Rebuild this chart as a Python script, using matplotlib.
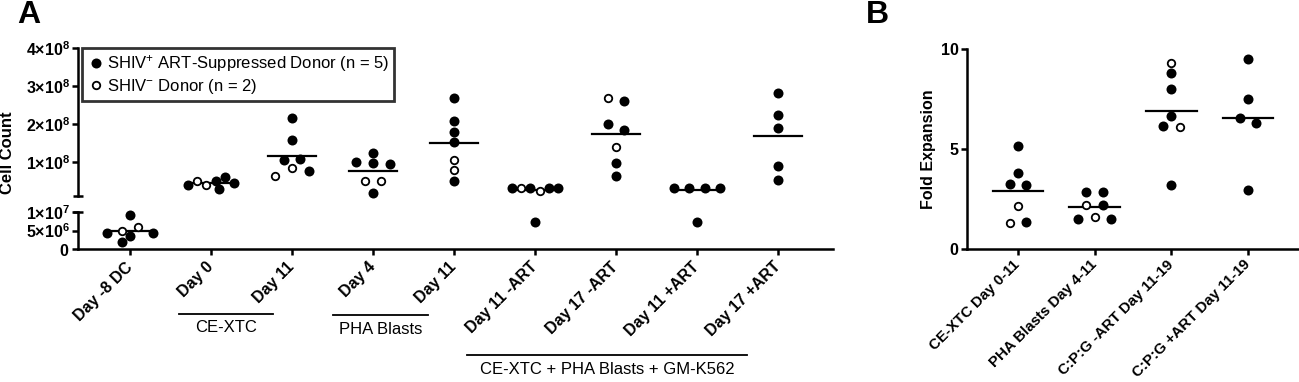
import numpy as np
import matplotlib
matplotlib.use('Agg')
import matplotlib.pyplot as plt
from matplotlib.lines import Line2D
from matplotlib import transforms

plt.rcParams['font.family'] = ['Liberation Sans', 'DejaVu Sans']
plt.rcParams['mathtext.fontset'] = 'custom'
plt.rcParams['mathtext.rm'] = 'Liberation Sans'
plt.rcParams['mathtext.bf'] = 'Liberation Sans:bold'
plt.rcParams['mathtext.it'] = 'Liberation Sans:italic'

# ---- panel A: cell counts (values listed left to right inside each swarm row)
cats_a = ['Day -8 DC', 'Day 0', 'Day 11', 'Day 4', 'Day 11',
          'Day 11 -ART', 'Day 17 -ART', 'Day 11 +ART', 'Day 17 +ART']
counts_a = [
    [9.2e6, 4.5e6, 4.9e6, 5.9e6, 4.5e6, 1.9e6, 3.5e6],
    [3.76e7, 4.81e7, 3.76e7, 4.97e7, 5.87e7, 4.29e7, 2.70e7],
    [2.15e8, 1.57e8, 1.04e8, 1.06e8, 0.62e8, 0.82e8, 0.76e8],
    [1.23e8, 1.00e8, 0.96e8, 0.94e8, 0.49e8, 0.49e8, 0.18e8],
    [2.68e8, 2.08e8, 1.79e8, 1.51e8, 1.04e8, 0.78e8, 0.50e8],
    [2.96e7, 2.96e7, 2.96e7, 2.25e7, 2.96e7, 2.96e7, 7.4e6],
    [2.69e8, 2.61e8, 2.00e8, 1.84e8, 1.40e8, 0.96e8, 0.62e8],
    [2.96e7, 2.96e7, 2.96e7, 2.96e7, 7.4e6],
    [2.83e8, 2.24e8, 1.88e8, 0.89e8, 0.52e8],
]
# 1 = SHIV+ ART-suppressed donor (filled), 0 = SHIV- donor (open)
donor_a = [
    [1, 1, 0, 0, 1, 1, 1],
    [1, 0, 0, 1, 1, 1, 1],
    [1, 1, 1, 1, 0, 0, 1],
    [1, 1, 1, 1, 0, 0, 1],
    [1, 1, 1, 1, 0, 0, 1],
    [1, 0, 1, 0, 1, 1, 1],
    [0, 1, 1, 1, 0, 1, 1],
    [1, 1, 1, 1, 1],
    [1, 1, 1, 1, 1],
]
yticks_up = [1e8, 2e8, 3e8, 4e8]
yticks_up_lbl = [r'$\mathbf{1{\times}10^{8}}$', r'$\mathbf{2{\times}10^{8}}$',
                 r'$\mathbf{3{\times}10^{8}}$', r'$\mathbf{4{\times}10^{8}}$']
yticks_lo = [0, 5e6, 1e7]
yticks_lo_lbl = ['$\\mathbf{0}$', r'$\mathbf{5{\times}10^{6}}$', r'$\mathbf{1{\times}10^{7}}$']

# ---- panel B: fold expansion
cats_b = ['CE-XTC Day 0-11', 'PHA Blasts Day 4-11',
          'C:P:G -ART Day 11-19', 'C:P:G +ART Day 11-19']
fold_b = [
    [5.14, 3.77, 3.26, 3.20, 2.14, 1.27, 1.35],
    [2.84, 2.84, 2.17, 2.17, 1.49, 1.57, 1.49],
    [9.32, 8.78, 7.98, 6.64, 6.14, 6.11, 3.19],
    [9.52, 7.48, 6.56, 6.29, 2.94],
]
donor_b = [
    [1, 1, 1, 1, 0, 0, 1],
    [1, 1, 0, 1, 1, 0, 1],
    [0, 1, 1, 1, 1, 0, 1],
    [1, 1, 1, 1, 1],
]

legend_lbl = ['SHIV$^{\\mathrm{+}}$ ART-Suppressed Donor (n = 5)',
              'SHIV$^{\\mathrm{-}}$ Donor (n = 2)']
groups_a = [('CE-XTC', 0.60, 1.77, 313.5, 328),
            ('PHA Blasts', 2.51, 3.68, 314.5, 329),
            ('CE-XTC + PHA Blasts + GM-K562', 4.16, 7.62, 355, 369)]

# ---- styling
W, H = 1299, 382
SPLIT = 1e7
LW = 1.8
FILLED = dict(marker='o', ms=7.2, mfc='k', mec='k', mew=0, ls='none', zorder=3, clip_on=False)
OPEN = dict(marker='o', ms=5.4, mfc='white', mec='k', mew=1.3, ls='none', zorder=4, clip_on=False)
D = 10.0          # marker diameter, px
ROW_TOL = 8.5     # px
STEP = 16.7       # px
MAX_SPAN = 46.0   # px


def swarm(ys):
    # GraphPad-like rows: points close in y share a row, spread symmetrically
    order = sorted(range(len(ys)), key=lambda i: -ys[i])
    rows = []
    for i in order:
        if rows and ys[rows[-1][0]] - ys[i] < ROW_TOL:
            rows[-1].append(i)
        else:
            rows.append([i])
    xs = [0.0] * len(ys)
    placed = []
    for row in rows:
        row = sorted(row)
        n = len(row)
        step = STEP if n < 2 else min(STEP, MAX_SPAN / (n - 1))
        for k, i in enumerate(row):
            x = (k - (n - 1) / 2) * step
            if any(np.hypot(x - px, ys[i] - py) < 0.9 * D for px, py in placed):
                for d in sorted(np.arange(-30, 30.5, 0.5), key=lambda d: (abs(d), -d)):
                    if all(np.hypot(d - px, ys[i] - py) >= 0.9 * D for px, py in placed):
                        x = d
                        break
            xs[i] = x
            placed.append((x, ys[i]))
    return xs


def rect(x0, y0, x1, y1):
    return [x0 / W, 1 - y1 / H, (x1 - x0) / W, (y1 - y0) / H]


fig = plt.figure(figsize=(W / 100, H / 100), dpi=100)
ax_up = fig.add_axes(rect(78, 48.3, 833, 195.7))
ax_lo = fig.add_axes(rect(78, 212, 833, 249.3))
ax_b = fig.add_axes(rect(967, 49, 1299, 248.7))

for ax in (ax_up, ax_lo, ax_b):
    for s in ('top', 'right'):
        ax.spines[s].set_visible(False)
    for s in ('left', 'bottom'):
        ax.spines[s].set_linewidth(LW)
    ax.tick_params(width=LW, length=4, labelsize=11.5, pad=2)
ax_up.spines['bottom'].set_visible(False)

ax_up.set_xlim(-0.642, 8.679)
ax_lo.set_xlim(-0.642, 8.679)
ax_up.set_ylim(1e7, 4e8)
ax_lo.set_ylim(0, 1e7)
ax_up.set_xticks([])
ax_up.set_yticks(yticks_up)
ax_up.set_yticklabels(yticks_up_lbl)
ax_lo.set_yticks(yticks_lo)
ax_lo.set_yticklabels(yticks_lo_lbl)
ax_lo.set_xticks(range(len(cats_a)))
ax_lo.set_xticklabels(cats_a, rotation=45, ha='right', va='center',
                      rotation_mode='anchor', fontweight='bold', fontsize=11.5)
ax_lo.tick_params(axis='x', pad=7)

# axis break caps
for ax, yb in ((ax_up, 0), (ax_lo, 1)):
    half = 5 / (ax.get_position().width * W)
    ax.plot([-half, half], [yb, yb], color='k', lw=LW, transform=ax.transAxes,
            clip_on=False, solid_capstyle='butt')

# panel A points and means
ppu_a = ax_lo.transData.transform((1, 0))[0] - ax_lo.transData.transform((0, 0))[0]
for i, (vals, flags) in enumerate(zip(counts_a, donor_a)):
    axes = [ax_lo if v < SPLIT else ax_up for v in vals]
    ys = [a.transData.transform((0, v))[1] for a, v in zip(axes, vals)]
    offs = swarm(ys)
    m = np.mean(vals)
    am = ax_lo if m < SPLIT else ax_up
    am.plot([i - 0.30, i + 0.30], [m, m], color='k', lw=1.6, zorder=2, clip_on=False)
    for a, v, f, o in zip(axes, vals, flags, offs):
        a.plot(i + o / ppu_a, v, **(FILLED if f else OPEN))

# panel B
ax_b.set_xlim(-0.665, 3.664)
ax_b.set_ylim(0, 10)
ax_b.set_yticks([0, 5, 10])
ax_b.set_yticklabels(['0', '5', '10'], fontweight='bold')
ax_b.set_xticks(range(len(cats_b)))
ax_b.set_xticklabels(cats_b, rotation=45, ha='right', va='center',
                     rotation_mode='anchor', fontweight='bold', fontsize=10.8)
ax_b.tick_params(axis='x', pad=6)
ppu_b = ax_b.transData.transform((1, 0))[0] - ax_b.transData.transform((0, 0))[0]
for i, (vals, flags) in enumerate(zip(fold_b, donor_b)):
    ys = [ax_b.transData.transform((0, v))[1] for v in vals]
    offs = swarm(ys)
    m = np.mean(vals)
    ax_b.plot([i - 0.33, i + 0.33], [m, m], color='k', lw=1.6, zorder=2)
    for v, f, o in zip(vals, flags, offs):
        ax_b.plot(i + o / ppu_b, v, **(FILLED if f else OPEN))

# group brackets under panel A labels
tr = transforms.blended_transform_factory(ax_lo.transData, fig.transFigure)
for name, x0, x1, yl, yt in groups_a:
    fig.add_artist(Line2D([x0, x1], [1 - yl / H, 1 - yl / H], color='k', lw=1.3, transform=tr))
    fig.text((x0 + x1) / 2, 1 - yt / H, name, transform=tr, ha='center', va='center', fontsize=12)

# legend
handles = [Line2D([], [], **FILLED), Line2D([], [], **OPEN)]
leg = fig.legend(handles, legend_lbl, loc='upper left', bbox_to_anchor=(82 / W, 1 - 48.3 / H),
                 bbox_transform=fig.transFigure, fontsize=12, frameon=True, fancybox=False,
                 borderpad=0.3, handlelength=1.1, handletextpad=0.1, labelspacing=0.15,
                 borderaxespad=0)
leg.get_frame().set_edgecolor('k')
leg.get_frame().set_linewidth(2)

# axis titles and panel letters
fig.text(7.5 / W, 1 - 153 / H, 'Cell Count', rotation=90, ha='center', va='center',
         fontsize=12, fontweight='bold')
fig.text(928 / W, 1 - 149 / H, 'Fold Expansion', rotation=90, ha='center', va='center',
         fontsize=11.5, fontweight='bold')
fig.text(29 / W, 1 - 15 / H, 'A', ha='center', va='center', fontsize=23, fontweight='bold')
fig.text(877 / W, 1 - 15 / H, 'B', ha='center', va='center', fontsize=23, fontweight='bold')

fig.savefig('out.png', dpi=100)
